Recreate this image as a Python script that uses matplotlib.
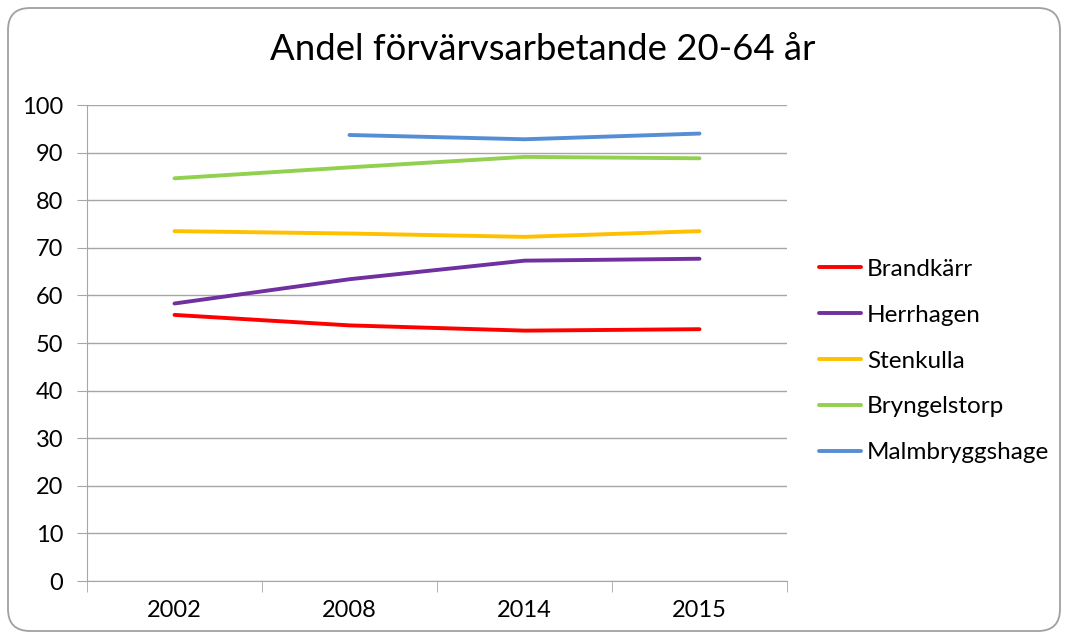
import numpy as np
import matplotlib.pyplot as plt
from matplotlib.patches import FancyBboxPatch

years = ["2002", "2008", "2014", "2015"]
brandkarr = [55.9, 53.7, 52.6, 52.9]
herrhagen = [58.3, 63.4, 67.3, 67.7]
stenkulla = [73.5, 73.0, 72.3, 73.5]
bryngelstorp = [84.6, 86.9, 89.1, 88.8]
malmbryggshage = [np.nan, 93.7, 92.8, 94.0]

series = [("Brandkärr", brandkarr, "#FF0000"),
          ("Herrhagen", herrhagen, "#7030A0"),
          ("Stenkulla", stenkulla, "#FFC000"),
          ("Bryngelstorp", bryngelstorp, "#92D050"),
          ("Malmbryggshage", malmbryggshage, "#558ED5")]

plt.rcParams['font.family'] = ['Lato', 'DejaVu Sans']

W, H = 1065, 636
fig = plt.figure(figsize=[W/100, H/100], dpi=100)

# rounded chart frame, behind the axes
frame = FancyBboxPatch((8, 5), 1052, 623, boxstyle="round,pad=0,rounding_size=22",
                       transform=None, fc="white", ec="#a0a0a0", lw=1.3, zorder=-10)
fig.patches.append(frame)

ax = fig.add_axes([87/W, 1-581/H, 700/W, 476/H])
ax.set_facecolor("none")
x = np.arange(len(years))
for name, vals, c in series:
    ax.plot(x, vals, "-", color=c, lw=2.8, label=name, solid_capstyle="round")

ax.set_xlim(-0.5, 3.5)
ax.set_ylim(0, 100)
ax.set_yticks(range(0, 101, 10))
ax.set_xticks(x)
ax.set_xticklabels(years)
ax.set_xticks(np.arange(-0.5, 4, 1), minor=True)
ax.tick_params(axis="x", which="major", length=0, pad=14, labelsize=17)
ax.tick_params(axis="x", which="minor", length=8, color="#a6a6a6")
ax.tick_params(axis="y", length=7, color="#a6a6a6", labelsize=17, pad=10)
ax.grid(True, axis="y", color="#a6a6a6", lw=1)
ax.set_axisbelow(True)
for s in ["top", "right"]:
    ax.spines[s].set_visible(False)
for s in ["left", "bottom"]:
    ax.spines[s].set_color("#a6a6a6")

ax.legend(loc="center left", bbox_to_anchor=(1.045, 0.462), frameon=False,
          borderaxespad=0, borderpad=0, handlelength=1.75, handletextpad=0.25,
          labelspacing=1.02, fontsize=17.5)

fig.text(543/W, 1-50/H, "Andel förvärvsarbetande 20-64 år", ha="center",
         va="center", fontsize=26.3)

fig.savefig("out.png", dpi=100)
